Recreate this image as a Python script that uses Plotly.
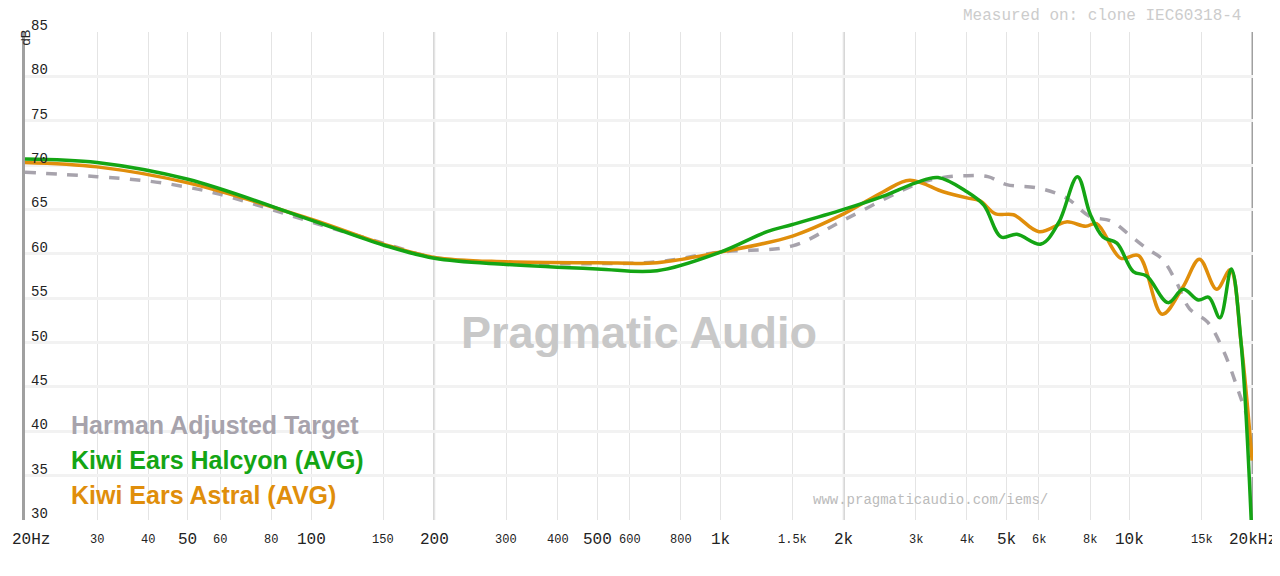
import numpy as np
import plotly.graph_objects as go

# Harman Adjusted Target (dashed gray)
target_f = [20, 30, 40, 50, 60, 80, 100, 150, 200, 300, 500, 700, 1000, 1500, 2000,
            3000, 3500, 4000, 4500, 5000, 6000, 7000, 8000, 9000, 10000, 11000, 12000,
            13000, 14000, 15500, 17000, 18500, 19700]
target_db = [69.2, 68.7, 68.2, 67.5, 66.7, 65.0, 63.6, 61.2, 59.6, 59.0, 58.9, 59.1, 60.2,
             60.9, 63.8, 67.8, 68.6, 68.8, 68.7, 67.8, 67.4, 66.3, 64.2, 63.7, 62.1, 60.6,
             59.4, 56.8, 53.8, 52.3, 48.9, 44.3, 40.6]

# Kiwi Ears Halcyon (AVG)
halcyon_f = [20, 30, 50, 100, 150, 200, 300, 500, 700, 1000, 1300, 1500, 2000, 2500, 3000,
             3400, 4000, 4400, 4850, 5300, 6070, 6700, 7450, 8000, 8600, 9300, 10200, 11000,
             12400, 13500, 14700, 15600, 16600, 17700, 18700, 19800]
halcyon_db = [70.7, 70.3, 68.4, 63.8, 61.0, 59.5, 58.8, 58.3, 58.1, 60.2, 62.5, 63.3, 65.0,
              66.5, 68.0, 68.6, 67.0, 65.5, 61.9, 62.2, 61.1, 63.5, 68.7, 64.5, 61.9, 61.2,
              58.0, 57.5, 54.5, 56.0, 54.8, 55.1, 52.8, 58.3, 50.0, 30.0]

# Kiwi Ears Astral (AVG)
astral_f = [20, 30, 50, 100, 150, 200, 300, 500, 700, 1000, 1500, 2000, 2500, 2900, 3500,
            4000, 4300, 4700, 5200, 6000, 7000, 7800, 8300, 9500, 10500, 12000, 13500, 14800,
            16300, 17600, 18700, 19900]
astral_db = [70.3, 69.8, 68.0, 63.9, 61.1, 59.6, 59.1, 59.0, 59.0, 60.2, 62.0, 64.5, 67.0,
             68.3, 67.0, 66.3, 66.0, 64.5, 64.4, 62.5, 63.6, 63.1, 63.4, 59.5, 59.8, 53.2,
             56.3, 59.4, 56.0, 58.2, 50.0, 36.7]

tick_vals = [20, 30, 40, 50, 60, 80, 100, 150, 200, 300, 400, 500, 600, 800, 1000, 1500,
             2000, 3000, 4000, 5000, 6000, 8000, 10000, 15000, 20000]
tick_labels = ["20Hz", "30", "40", "50", "60", "80", "100", "150", "200", "300", "400", "500",
               "600", "800", "1k", "1.5k", "2k", "3k", "4k", "5k", "6k", "8k", "10k", "15k", "20kHz"]
big_ticks = {"20Hz", "50", "100", "200", "500", "1k", "2k", "5k", "10k", "20kHz"}

db_ticks = [30, 35, 40, 45, 50, 55, 60, 65, 70, 75, 80, 85]

fig = go.Figure()

fig.add_trace(go.Scatter(x=target_f, y=target_db, mode='lines', line_shape='spline',
                         line=dict(color='#a7a3ac', width=3.5, dash='dash')))
fig.add_trace(go.Scatter(x=astral_f, y=astral_db, mode='lines', line_shape='spline',
                         line=dict(color='#e08e0b', width=3.5)))
fig.add_trace(go.Scatter(x=halcyon_f, y=halcyon_db, mode='lines', line_shape='spline',
                         line=dict(color='#14a514', width=3.5)))

for f in [200, 2000]:
    fig.add_vline(x=f, line_color='#a0a0a0', line_width=1.5, layer='below')
fig.add_vline(x=20000, line_color='#a0a0a0', line_width=3, layer='below')

mono = "Liberation Mono, DejaVu Sans Mono, monospace"

# page body adds an 8px offset, so margins compensate
fig.update_layout(
    width=1280, height=576,
    margin=dict(l=17, r=35, t=24, b=64, autoexpand=False),
    plot_bgcolor='white', paper_bgcolor='white',
    showlegend=False,
    font=dict(family=mono, color='#222'),
    xaxis=dict(type='log', range=[np.log10(20), np.log10(20000)],
               tickvals=tick_vals, showticklabels=False,
               showgrid=True, gridcolor='#e4e4e4', gridwidth=1, ticks='',
               showline=False, zeroline=False),
    yaxis=dict(range=[30, 85], tickvals=db_ticks, showticklabels=False,
               showgrid=True, gridcolor='#f2f2f2', gridwidth=3,
               showline=True, linecolor='#a0a0a0', linewidth=3, zeroline=False),
)

for v, t in zip(tick_vals, tick_labels):
    big = t in big_ticks
    shift = 6 if t == "20Hz" else 0
    fig.add_annotation(text=t, x=np.log10(v), xref='x', y=0, yref='paper', yshift=-20,
                       xshift=shift, showarrow=False, yanchor='middle',
                       font=dict(family=mono, size=16 if big else 12, color='#222'))

for v in db_ticks:
    fig.add_annotation(text=str(v), x=0, xref='paper', y=v, yref='y', xshift=4, yshift=6,
                       xanchor='left', yanchor='middle', showarrow=False,
                       font=dict(family=mono, size=14, color='#222'))

legend_items = [("Harman Adjusted Target", '#a7a3ac'),
                ("Kiwi Ears Halcyon (AVG)", '#14a514'),
                ("Kiwi Ears Astral (AVG)", '#e08e0b')]
for i, (name, col) in enumerate(legend_items):
    fig.add_annotation(text="<b>%s</b>" % name, xref='paper', yref='paper',
                       x=0.036, y=0.195 - i * 0.072, xanchor='left', yanchor='middle',
                       showarrow=False, font=dict(family="Liberation Sans, Arial", size=25, color=col))

fig.add_annotation(text="<b>Pragmatic Audio</b>", xref='paper', yref='paper', x=0.5, y=0.385,
                   showarrow=False, font=dict(family="Liberation Sans, Arial", size=45, color='#c8c8c8'))
fig.add_annotation(text="Measured on: clone IEC60318-4", xref='paper', yref='paper',
                   x=1.0, y=1.0, xshift=-10, yshift=16, xanchor='right', yanchor='middle',
                   showarrow=False, font=dict(family=mono, size=16, color='#cccccc'))
fig.add_annotation(text="www.pragmaticaudio.com/iems/", xref='paper', yref='paper',
                   x=0.835, y=0.04, xanchor='right', yanchor='middle', showarrow=False,
                   font=dict(family=mono, size=14, color='#bbbbbb'))
fig.add_annotation(text="dB", xref='paper', yref='paper', x=0, y=1, xshift=-10, yshift=4,
                   textangle=-90, showarrow=False, font=dict(family="Liberation Sans", size=13))

fig.write_html("out.html")
